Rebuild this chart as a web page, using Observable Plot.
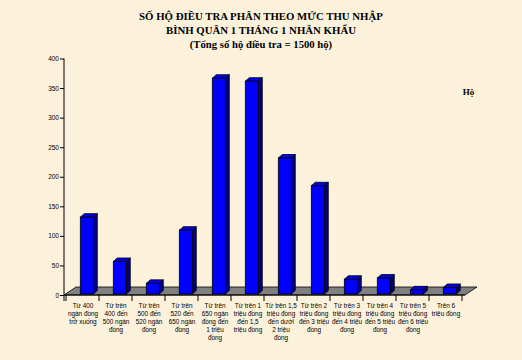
<!DOCTYPE html>
<html><head><meta charset="utf-8">
<script src="https://cdn.jsdelivr.net/npm/d3@7"></script>
<script src="https://cdn.jsdelivr.net/npm/@observablehq/plot@0.6"></script>
<style>
body{margin:0;background:#fcf2dc;width:522px;height:360px;overflow:hidden}
#title{height:52px;text-align:center;font-family:"Liberation Serif","Times New Roman",serif;font-weight:bold;color:#000;padding-top:9px;box-sizing:border-box;line-height:14px}
#chart svg{display:block}
</style></head><body>
<div id="title">
<div style="font-size:10.8px">SỐ HỘ ĐIỀU TRA PHÂN THEO MỨC THU NHẬP</div>
<div style="font-size:10.8px">BÌNH QUÂN 1 THÁNG 1 NHÂN KHẨU</div>
<div style="font-size:10.7px">(Tổng số hộ điều tra = 1500 hộ)</div>
</div>
<div id="chart"></div>
<script>
const categories = [
  "Từ 400\nngàn đồng\ntrở xuống",
  "Từ trên\n400 đến\n500 ngàn\nđồng",
  "Từ trên\n500 đến\n520 ngàn\nđồng",
  "Từ trên\n520 đến\n650 ngàn\nđồng",
  "Từ trên\n650 ngàn\nđồng đến\n1 triệu\nđồng",
  "Từ trên 1\ntriệu đồng\nđến 1,5\ntriệu đồng",
  "Từ trên 1,5\ntriệu đồng\nđến dưới\n2 triệu\nđồng",
  "Từ trên 2\ntriệu đồng\nđến 3 triệu\nđồng",
  "Từ trên 3\ntriệu đồng\nđến 4 triệu\nđồng",
  "Từ trên 4\ntriệu đồng\nđến 5 triệu\nđồng",
  "Từ trên 5\ntriệu đồng\nđến 6 triệu\nđồng",
  "Trên 6\ntriệu đồng"
];
const households = [130, 55, 18, 108, 365, 360, 230, 183, 25, 27, 7, 11];
const yTicks = [0, 50, 100, 150, 200, 250, 300, 350, 400];
const unitLabel = "Hộ";

const data = categories.map((c, i) => ({category: c, value: households[i]}));

const BAR_DX = 4.3, BAR_DY = -1, DEPTH_X = 4, DEPTH_Y = 3.5;
const FLOOR_X = 12, FLOOR_Y = 8;
const ns = "http://www.w3.org/2000/svg";

function floorAndAxes(index, scales, values, dims) {
  const g = document.createElementNS(ns, "g");
  const sel = d3.select(g);
  const x0 = dims.marginLeft, x1 = dims.width - dims.marginRight;
  const y0 = scales.y(0), yTop = scales.y(400);
  sel.append("polygon")
    .attr("points", [[x0, y0], [x1, y0], [x1 + FLOOR_X, y0 - FLOOR_Y], [x0 + FLOOR_X, y0 - FLOOR_Y]].join(" "))
    .attr("fill", "#808080").attr("stroke", "#000").attr("stroke-width", 0.8);
  sel.append("line").attr("x1", x0).attr("x2", x0).attr("y1", yTop).attr("y2", y0 + 6)
    .attr("stroke", "#000").attr("stroke-width", 1);
  sel.append("line").attr("x1", x0).attr("x2", x1).attr("y1", y0).attr("y2", y0)
    .attr("stroke", "#000").attr("stroke-width", 1);
  const x = scales.x;
  const bw = x.bandwidth ? x.bandwidth() : 13.4;
  const step = x.step ? x.step() : 33.4;
  const bounds = categories.map(c => x(c) + bw / 2 - step / 2);
  bounds.push(x(categories[categories.length - 1]) + bw / 2 + step / 2);
  for (const b of bounds) {
    sel.append("line").attr("x1", b).attr("x2", b).attr("y1", y0).attr("y2", y0 + 6)
      .attr("stroke", "#000").attr("stroke-width", 1);
  }
  return g;
}

function bars3d(index, scales, values, dims) {
  const g = document.createElementNS(ns, "g");
  const sel = d3.select(g);
  const x = scales.x, y = scales.y;
  const bw = x.bandwidth ? x.bandwidth() : 13.4;
  for (const d of data) {
    const l = x(d.category) + BAR_DX, r = l + bw;
    const t = y(d.value) + BAR_DY, b = y(0) + BAR_DY;
    sel.append("polygon")
      .attr("points", [[r, t], [r + DEPTH_X, t - DEPTH_Y], [r + DEPTH_X, b - DEPTH_Y], [r, b]].join(" "))
      .attr("fill", "#000080").attr("stroke", "#000").attr("stroke-width", 0.8);
    sel.append("polygon")
      .attr("points", [[l, t], [l + DEPTH_X, t - DEPTH_Y], [r + DEPTH_X, t - DEPTH_Y], [r, t]].join(" "))
      .attr("fill", "#0000ee").attr("stroke", "#000").attr("stroke-width", 0.8);
  }
  return g;
}

const chart = Plot.plot({
  width: 522,
  height: 308,
  marginTop: 6.5,
  marginBottom: 65,
  marginLeft: 64,
  marginRight: 57,
  style: {background: "transparent", fontFamily: "'Liberation Sans', Arial, sans-serif"},
  x: {domain: categories, paddingInner: 0.6, paddingOuter: 0.3, label: null},
  y: {domain: [0, 400], label: null},
  marks: [
    floorAndAxes,
    Plot.axisY({ticks: yTicks, tickSize: 4, tickPadding: 1.5, fontSize: 6.5, fill: "#000", label: null}),
    Plot.axisX({tickSize: 0, tickPadding: 7, fontSize: 6.4, lineHeight: 1.25, fill: "#000", label: null}),
    bars3d,
    Plot.barY(data, {x: "category", y: "value", fill: "#0000ff", stroke: "#000", strokeWidth: 0.8, dx: BAR_DX, dy: BAR_DY}),
    Plot.text([unitLabel], {frameAnchor: "top-right", text: d => d, dx: 3, dy: 30, fontSize: 9, fontWeight: "bold", fontFamily: "'Liberation Serif', serif", fill: "#000", textAnchor: "middle"})
  ]
});
document.getElementById("chart").appendChild(chart);
</script>
</body></html>
